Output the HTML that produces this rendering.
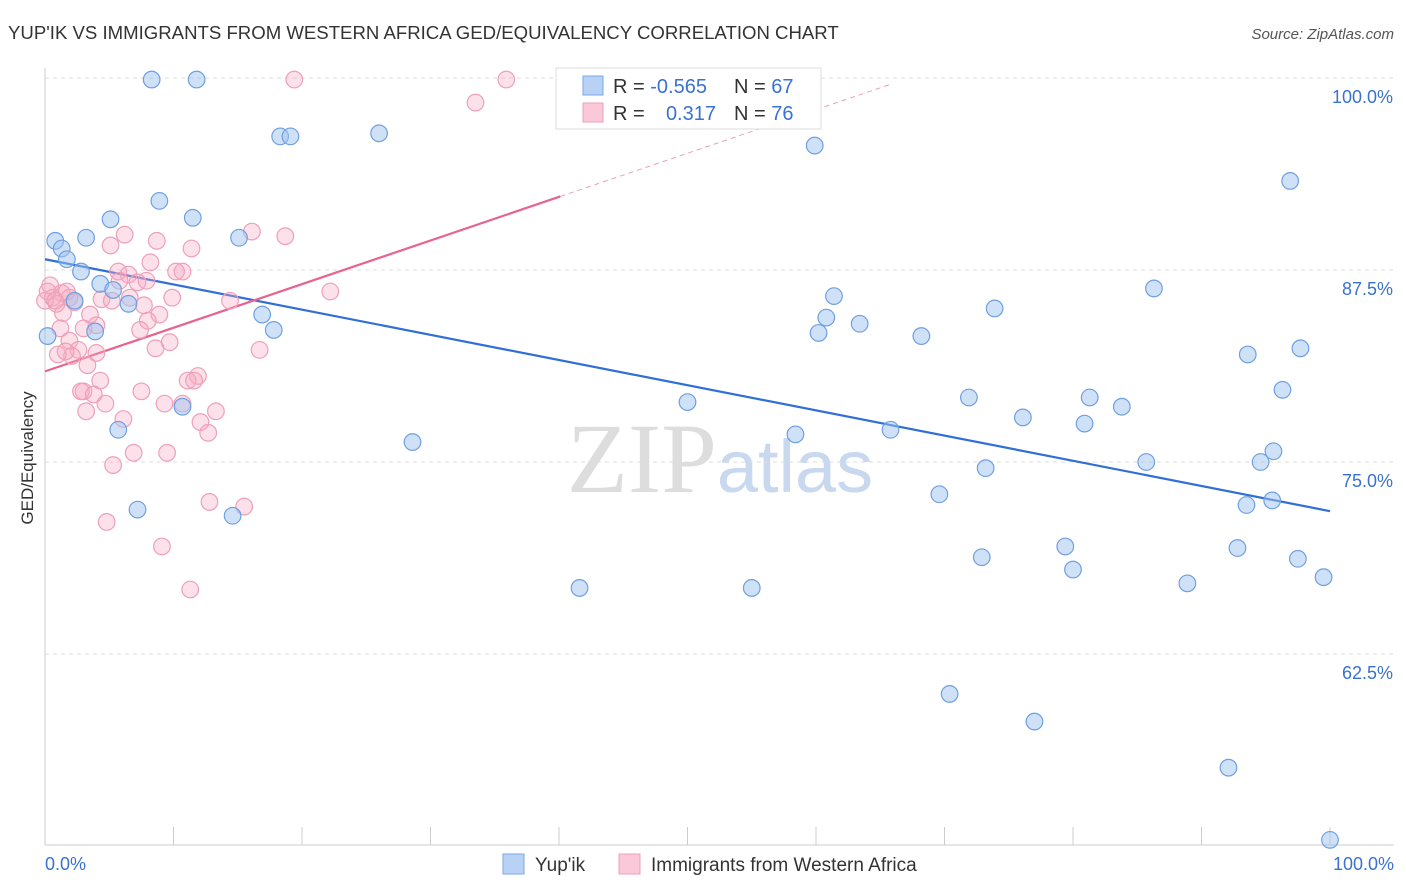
<!DOCTYPE html>
<html><head><meta charset="utf-8">
<style>
body{margin:0;background:#fff;font-family:"Liberation Sans",sans-serif;}
svg{display:block}
</style></head>
<body>
<svg id="chart" width="1406" height="892">
<text x="8" y="39" font-size="18.6" fill="#333">YUP'IK VS IMMIGRANTS FROM WESTERN AFRICA GED/EQUIVALENCY CORRELATION CHART</text>
<text x="1394" y="39" font-size="15" fill="#555" font-style="italic" text-anchor="end">Source: ZipAtlas.com</text>
<text x="720" y="492" font-size="100" fill="#ddd" text-anchor="middle" font-family="Liberation Serif,serif">ZIP<tspan fill="#c8d8ee" font-family="Liberation Sans,sans-serif" font-size="74">atlas</tspan></text>
<g id="grid"></g>
<g id="axes"></g>
<g id="lines"></g>
<g id="pts"></g>
<text x="33" y="458" font-size="17" fill="#333" text-anchor="middle" transform="rotate(-90 33 458)">GED/Equivalency</text>
<text x="45" y="870" font-size="18" fill="#3a72d0">0.0%</text>
<text x="1394" y="870" font-size="18" fill="#3a72d0" text-anchor="end">100.0%</text>
<g>
<rect x="556" y="68" width="265" height="61" fill="#fff" stroke="#ddd"/>
<rect x="583" y="76" width="20" height="19" fill="#b8d2f5" stroke="#7aa8e6"/>
<rect x="583" y="103" width="20" height="19" fill="#fac8d8" stroke="#eea0b8"/>
<text x="613" y="93" font-size="20" fill="#333">R = <tspan fill="#3a72d0">-0.565</tspan></text>
<text x="734" y="93" font-size="20" fill="#333">N = <tspan fill="#3a72d0">67</tspan></text>
<text x="613" y="120" font-size="20" fill="#333">R = </text>
<text x="716" y="120" font-size="20" fill="#3a72d0" text-anchor="end">0.317</text>
<text x="734" y="120" font-size="20" fill="#333">N = <tspan fill="#3a72d0">76</tspan></text>
</g>
<g><rect x="503" y="854" width="21" height="20" fill="#b8d2f5" stroke="#7aa8e6"/><text x="535" y="871" font-size="19" fill="#333">Yup'ik</text></g>
<g><rect x="619" y="854" width="21" height="20" fill="#fac8d8" stroke="#eea0b8"/><text x="651" y="871" font-size="19" fill="#333">Immigrants from Western Africa</text></g>
</svg>
<script>
const yTicks=[100,87.5,75,62.5];
const yTickLabels=["100.0%","87.5%","75.0%","62.5%"];
const xTicks=[0,10,20,30,40,50,60,70,80,90,100];
const blueX=[8.3,11.8,18.3,19.1,26.0,59.9,96.9,8.9,5.1,11.5,0.8,1.3,3.2,1.7,15.1,2.8,4.3,5.3,2.3,6.5,16.9,17.8,3.9,0.2,61.4,60.8,60.2,63.4,68.2,73.9,86.3,93.6,97.7,96.3,71.9,50.0,10.7,81.3,83.8,76.1,80.9,65.8,58.4,5.7,28.6,85.7,73.2,94.6,95.6,69.6,93.5,95.5,7.2,14.6,79.4,72.9,92.8,97.5,80.0,99.5,88.9,41.6,55.0,70.4,77.0,92.1,100];
const blueY=[99.9,99.9,96.2,96.2,96.4,95.6,93.3,92.0,90.8,90.9,89.4,88.9,89.6,88.2,89.6,87.4,86.6,86.2,85.5,85.3,84.6,83.6,83.5,83.2,85.8,84.4,83.4,84.0,83.2,85.0,86.3,82.0,82.4,79.7,79.2,78.9,78.6,79.2,78.6,77.9,77.5,77.1,76.8,77.1,76.3,75.0,74.6,75.0,75.7,72.9,72.2,72.5,71.9,71.5,69.5,68.8,69.4,68.7,68.0,67.5,67.1,66.8,66.8,59.9,58.1,55.1,50.4];
const pinkX=[19.4,35.9,33.5,6.2,8.7,5.1,16.1,18.7,11.4,8.2,5.7,10.7,6.5,7.2,10.2,22.2,0.4,1.3,1.9,0.9,0.0,4.4,6.6,7.7,9.9,14.4,1.4,3.5,8.9,8.0,4.0,7.4,1.2,1.9,9.7,2.6,4.0,8.6,2.1,1.0,3.3,16.7,11.9,11.1,11.6,4.3,3.0,2.8,7.5,3.8,4.7,10.7,9.3,13.3,3.2,6.1,12.1,12.7,6.9,9.5,5.3,12.8,15.5,4.8,9.1,11.3,0.6,0.2,1.7,0.8,2.3,5.2,3.0,1.6,5.8,7.9];
const pinkY=[99.9,99.9,98.4,89.8,89.4,89.1,90.0,89.7,88.9,88.0,87.4,87.4,87.2,86.7,87.4,86.1,86.5,86.0,85.7,85.3,85.5,85.6,85.7,85.2,85.7,85.5,84.7,84.6,84.6,84.2,83.9,83.6,83.7,82.9,82.8,82.3,82.1,82.4,81.9,82.0,81.3,82.3,80.6,80.3,80.3,80.3,79.6,79.6,79.6,79.4,78.8,78.8,78.8,78.3,78.3,77.8,77.6,76.9,75.6,75.6,74.8,72.4,72.1,71.1,69.5,66.7,85.7,86.1,86.1,85.5,85.4,85.5,83.7,82.2,86.8,86.8];
const blueTrend=[88.2,71.8];
const pinkTrend=[80.9,0.284];
const pinkSolidEnd=40.1, pinkDashEnd=65.8;
const NS='http://www.w3.org/2000/svg';
function sx(v){return 45+v*12.85;}
function sy(v){return 78+(100-v)*15.36;}
function mk(tag,a,parent){const e=document.createElementNS(NS,tag);for(const k in a)e.setAttribute(k,a[k]);document.getElementById(parent).appendChild(e);return e;}
yTicks.forEach((t,i)=>{
 const g=mk('line',{x1:45,x2:1394,y1:sy(t),y2:sy(t),stroke:'#ddd','stroke-dasharray':'4,4'},'grid');
 
 
 const l=mk('text',{x:1393,y:sy(t)+25,'font-size':18,fill:'#3a72d0','text-anchor':'end'},'grid');
 l.textContent=yTickLabels[i];
 
 
});
const ax=mk('line',{x1:45,x2:1394,y1:845,y2:845,stroke:'#ccc'},'axes');


const ay=mk('line',{x1:45,x2:45,y1:68,y2:845,stroke:'#ccc'},'axes');


xTicks.forEach(t=>{
 const k=mk('line',{x1:sx(t),x2:sx(t),y1:827,y2:845,stroke:'#ccc'},'axes');
 
 
});
const bl=mk('line',{x1:sx(0),y1:sy(blueTrend[0]),x2:sx(100),y2:sy(blueTrend[1]),stroke:'#2f6fd6','stroke-width':2.2},'lines');


const py=x=>pinkTrend[0]+pinkTrend[1]*x;
const pl=mk('line',{x1:sx(0),y1:sy(py(0)),x2:sx(pinkSolidEnd),y2:sy(py(pinkSolidEnd)),stroke:'#e8638e','stroke-width':2.2},'lines');


const pd=mk('line',{x1:sx(pinkSolidEnd),y1:sy(py(pinkSolidEnd)),x2:sx(pinkDashEnd),y2:sy(py(pinkDashEnd)),stroke:'#e8a0b8','stroke-width':1,'stroke-dasharray':'5,4'},'lines');


pinkX.forEach((x,i)=>{
 const c=mk('circle',{cx:sx(x),cy:sy(pinkY[i]),r:8.3,fill:'rgba(246,170,196,0.35)',stroke:'#eea0b8','stroke-width':1.2},'pts');
 
 
});
blueX.forEach((x,i)=>{
 const c=mk('circle',{cx:sx(x),cy:sy(blueY[i]),r:8.3,fill:'rgba(160,196,240,0.5)',stroke:'#6fa0e0','stroke-width':1.2},'pts');
 
 
});
</script>
</body></html>
